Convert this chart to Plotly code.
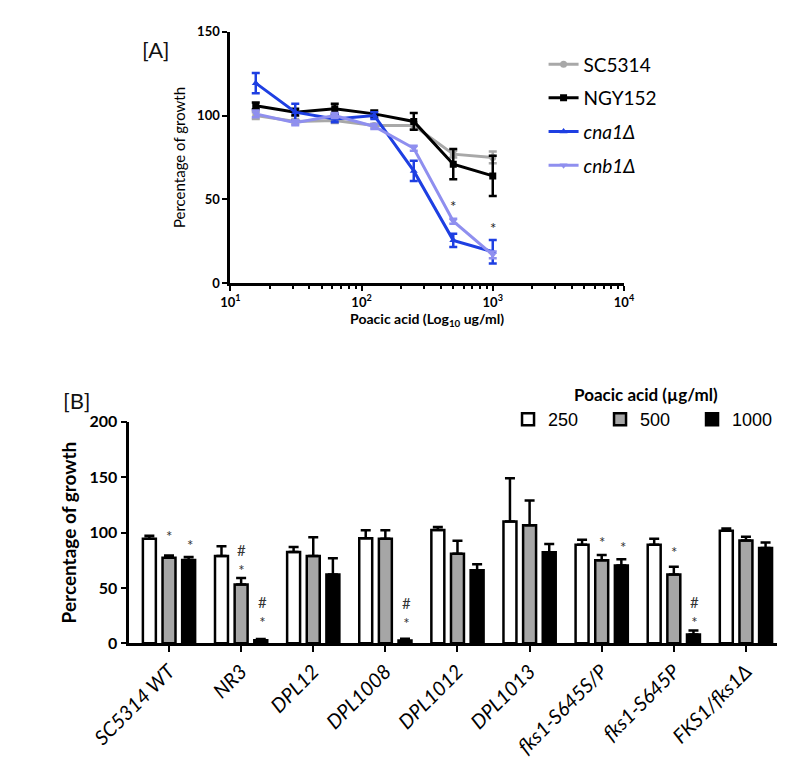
import math
import plotly.graph_objects as go

W, H = 785, 773

# ---------------- Panel A data ----------------
conc = [15.625, 31.25, 62.5, 125, 250, 500, 1000]
strains_a = ["SC5314", "NGY152", "<i>cna1Δ</i>", "<i>cnb1Δ</i>"]
sc5314 = [100, 96.5, 97, 94, 94, 77, 75]
sc5314_err = [2, 1.5, 1.5, 1, 2, 2, 3.5]
ngy152 = [105.8, 102, 104, 101, 96.5, 71, 64]
ngy152_err = [2, 2, 3, 2, 5, 9, 12]
cna1 = [119.3, 102, 98, 100, 67, 25.6, 18.8]
cna1_err = [6, 5, 2, 2, 6, 4, 7]
cnb1 = [101, 95.7, 100, 93.5, 80.5, 37, 17]
cnb1_err = [2, 1.5, 1.5, 1.5, 1.5, 1.5, 2]
x_ticks_a = [10, 100, 1000, 10000]
x_ticktext_a = ["10<sup>1</sup>", "10<sup>2</sup>", "10<sup>3</sup>", "10<sup>4</sup>"]
star_a_x = [500, 1000]
star_a_y = [46, 33]

# ---------------- Panel B data ----------------
categories = ["SC5314 WT", "NR3", "DPL12", "DPL1008", "DPL1012", "DPL1013",
              "fks1-S645S/P", "fks1-S645P", "FKS1/fks1Δ"]
doses = ["250", "500", "1000"]
g250 = [94.3, 78.7, 82.5, 94.9, 102.2, 110, 89, 89, 101.6]
g250_err = [2.7, 8.8, 4.5, 7.1, 2.8, 39, 4.4, 5.3, 2.1]
g500 = [77.3, 53.1, 78.7, 94.3, 80.8, 106.6, 74.9, 62, 92.8]
g500_err = [2, 5.9, 17.1, 7.7, 11.7, 22.4, 4.7, 7, 3.5]
g1000 = [75.2, 2.6, 62, 2.5, 66, 82.2, 70.2, 7.9, 86]
g1000_err = [2.8, 1.3, 14.7, 1.5, 5.4, 7.4, 5.6, 3.6, 5]
# significance marks: category, dose, text, y (centre of the mark)
sig_cat = ["SC5314 WT", "SC5314 WT", "NR3", "NR3",
           "DPL1008", "fks1-S645S/P", "fks1-S645S/P",
           "fks1-S645P", "fks1-S645P"]
sig_dose = ["500", "1000", "500", "1000",
            "1000", "500", "1000",
            "500", "1000"]
sig_txt = ["*", "*", "#<br>*", "#<br>*",
           "#<br>*", "*", "*",
           "*", "#<br>*"]
sig_y = [97, 89, 75, 28,
         27, 91, 87,
         82, 28]

FONT = "Lato"

def px(x):
    return x / W

def py(y):
    return 1 - y / H

fig = go.Figure()

a_series = [sc5314, ngy152, cna1, cnb1]
a_errs = [sc5314_err, ngy152_err, cna1_err, cnb1_err]
a_colors = ["#A8A8A8", "#000000", "#1E3FE2", "#8F8FEF"]
a_symbols = ["circle", "square", "triangle-up", "triangle-down"]
for name, ys, es, c, s in zip(strains_a, a_series, a_errs, a_colors, a_symbols):
    fig.add_trace(go.Scatter(
        x=conc, y=ys, name=name, mode="lines+markers",
        line=dict(color=c, width=3), marker=dict(color=c, size=7, symbol=s),
        error_y=dict(type="data", array=es, color=c, thickness=2.5, width=4),
        xaxis="x", yaxis="y", legend="legend", legendgroup=name,
    ))

b_series = [g250, g500, g1000]
b_errs = [g250_err, g500_err, g1000_err]
b_colors = ["#FFFFFF", "#A6A6A6", "#000000"]
for d, ys, es, c in zip(doses, b_series, b_errs, b_colors):
    fig.add_trace(go.Bar(
        x=categories, y=ys, name=d, marker=dict(color=c, line=dict(color="#000000", width=2.5)),
        error_y=dict(type="data", symmetric=False, array=es, arrayminus=[0] * len(es),
                     color="#000000", thickness=2.5, width=5),
        xaxis="x2", yaxis="y2", legend="legend2",
    ))

annotations = []
for xv, yv in zip(star_a_x, star_a_y):
    annotations.append(dict(x=math.log10(xv), y=yv, xref="x", yref="y", text="*",
                            showarrow=False, font=dict(family=FONT, size=15, color="#222")))
offs = {"250": -21, "500": 0, "1000": 21}
for c, d, t, yv in zip(sig_cat, sig_dose, sig_txt, sig_y):
    annotations.append(dict(x=c, y=yv, xref="x2", yref="y2", text=t, xshift=offs[d],
                            showarrow=False, align="center",
                            font=dict(family=FONT, size=15, color="#333")))

annotations += [
    dict(x=px(98), y=py(16), xref="paper", yref="paper", text="[A]", showarrow=False,
         font=dict(family=FONT, size=22, color="#111")),
    dict(x=px(14), y=py(392), xref="paper", yref="paper", text="[B]", showarrow=False,
         xanchor="left", font=dict(family=FONT, size=22, color="#111")),
]

fig.update_layout(
    width=W, height=H, margin=dict(l=0, r=0, t=0, b=0),
    paper_bgcolor="white", plot_bgcolor="white",
    font=dict(family=FONT, color="#000"),
    barmode="group", bargap=0.183, bargroupgap=0.34,
    xaxis=dict(type="log", range=[1, 4], domain=[px(195), px(616)], anchor="y",
               showline=True, linecolor="#000", linewidth=3, showgrid=False, zeroline=False,
               ticks="outside", ticklen=5, tickwidth=2, tickcolor="#000",
               tickvals=x_ticks_a, ticktext=x_ticktext_a,
               tickfont=dict(family=FONT, size=13, weight="bold"),
               minor=dict(ticks="outside", ticklen=3, tickwidth=1.5, tickcolor="#000", dtick="D1", showgrid=False),
               title=dict(text="<b>Poacic acid (Log<sub>10</sub> ug/ml)</b>", font=dict(family=FONT, size=14), standoff=6)),
    yaxis=dict(range=[0, 150], domain=[py(272), py(14)], anchor="x",
               showline=True, linecolor="#000", linewidth=3, showgrid=False, zeroline=False,
               ticks="outside", ticklen=5, tickwidth=2, tickcolor="#000", dtick=50,
               tickfont=dict(family=FONT, size=13, weight="bold"),
               title=dict(text="Percentage of growth", font=dict(family=FONT, size=15), standoff=8)),
    xaxis2=dict(type="category", range=[-0.55, 8.5], domain=[px(87), 1], anchor="y2",
                showline=True, linecolor="#000", linewidth=2.5, showgrid=False, zeroline=False,
                ticks="outside", ticklen=6, tickwidth=2, tickcolor="#000", tickangle=-45,
                tickfont=dict(family=FONT, size=20, style="italic")),
    yaxis2=dict(range=[0, 200], domain=[py(641), py(414)], anchor="x2",
                showline=True, linecolor="#000", linewidth=2.5, showgrid=False, zeroline=False,
                ticks="outside", ticklen=6, tickwidth=2, tickcolor="#000", dtick=50,
                tickfont=dict(family=FONT, size=16, weight="bold"),
                title=dict(text="<b>Percentage of growth</b>", font=dict(family=FONT, size=19), standoff=8)),
    legend=dict(x=px(530), y=py(28), xanchor="left", yanchor="top", bgcolor="rgba(0,0,0,0)",
                font=dict(family=FONT, size=19), tracegroupgap=6, itemwidth=30),
    legend2=dict(orientation="h", x=px(492), y=py(370), xanchor="left", yanchor="top",
                 bgcolor="rgba(0,0,0,0)", font=dict(family="Liberation Sans", size=18),
                 entrywidth=47, entrywidthmode="pixels",
                 title=dict(text="<b>Poacic acid (µg/ml)</b>", side="top center",
                            font=dict(family=FONT, size=17))),
    annotations=annotations,
    showlegend=True,
)

fig.write_html("out.html")
